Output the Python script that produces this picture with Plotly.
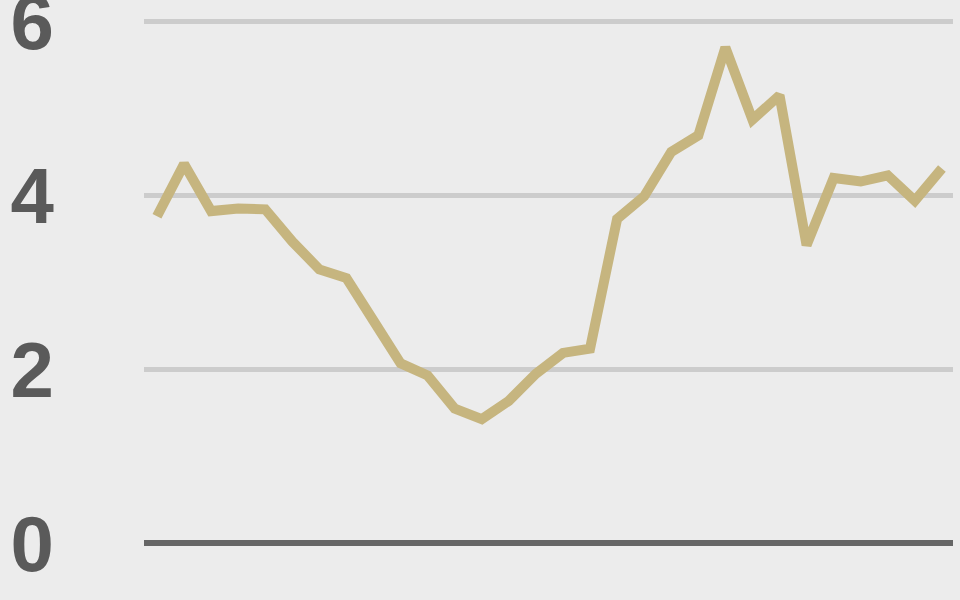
import plotly.graph_objects as go

# Data
periods = list(range(30))
values = [3.76, 4.36, 3.82, 3.85, 3.84, 3.47, 3.15, 3.05, 2.56, 2.07,
          1.93, 1.55, 1.43, 1.64, 1.95, 2.19, 2.24, 3.73, 3.99, 4.50,
          4.69, 5.70, 4.87, 5.15, 3.43, 4.20, 4.16, 4.23, 3.94, 4.31]
y_ticks = [0, 2, 4, 6]
y_tick_labels = ["0", "2", "4", "6"]

BG = "#ececec"
LINE = "#c6b57f"
GRID = "#cccccc"
ZERO = "#666666"
LABEL = "#5a5a5a"

fig = go.Figure()
fig.add_trace(go.Scatter(
    x=periods, y=values, mode="lines",
    line=dict(color=LINE, width=10),
    hoverinfo="skip", showlegend=False,
))

fig.update_layout(
    width=960, height=600,
    paper_bgcolor=BG, plot_bgcolor=BG,
    margin=dict(l=144, r=7, t=4, b=13, pad=0),
    showlegend=False,
    xaxis=dict(
        range=[-0.48, 29.41], showgrid=False, zeroline=False,
        showticklabels=False, ticks="", showline=False, fixedrange=True,
    ),
    yaxis=dict(
        range=[-0.5, 6.2], tickmode="array", tickvals=y_ticks,
        ticktext=y_tick_labels, showgrid=True, gridcolor=GRID, gridwidth=5,
        zeroline=True, zerolinecolor=ZERO, zerolinewidth=6,
        showline=False, ticks="", automargin=False,
        ticklabelstandoff=89, ticklabeloverflow="allow",
        tickfont=dict(family="Liberation Sans, Arial, sans-serif", size=78,
                      color=LABEL, weight="bold"),
        fixedrange=True,
    ),
)

fig.write_html(
    "out.html",
    config={"displayModeBar": False},
    post_script="document.body.style.margin='0';document.body.style.overflow='hidden';",
)
